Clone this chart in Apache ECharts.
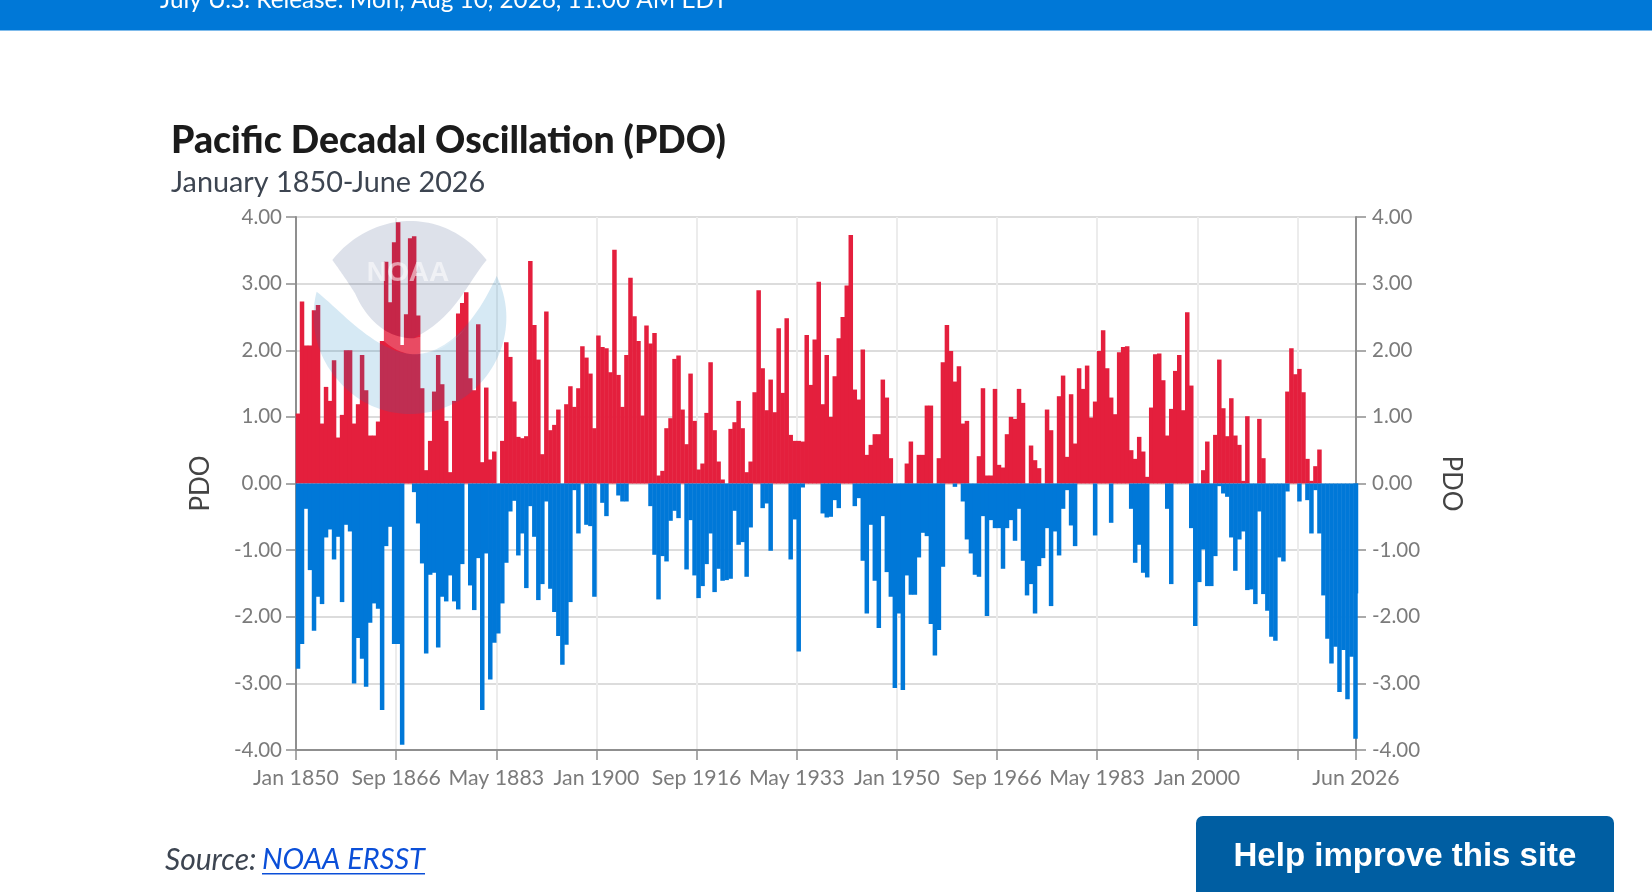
<!DOCTYPE html>
<html><head><meta charset="utf-8">
<style>html,body{margin:0;padding:0;background:#fff}#c{width:1652px;height:892px}</style>
<script src="https://cdn.jsdelivr.net/npm/echarts@6/dist/echarts.min.js"></script>
</head><body><div id="c"></div>
<script>
// Highest and lowest monthly PDO, one pair per 8-month step from Jan 1850.
const posValues = [1.05,2.73,2.07,2.07,2.6,2.68,.9,1.45,1.24,1.85,.69,1.03,2,2,.9,1.19,1.93,1.4,.72,.72,.93,2.14,3.33,2.72,3.62,3.92,2.08,2.54,3.68,3.71,2.52,1.43,.2,.64,1.38,1.93,1.49,.94,.17,1.24,2.55,2.71,2.87,1.58,
1.4,2.39,.32,1.44,.36,.48,0,.64,2.12,1.9,1.23,.7,.68,.71,3.34,2.38,1.86,.44,2.58,.8,.88,1.11,0,1.19,1.46,1.15,1.43,2.06,1.89,1.65,.83,2.22,2.05,2.03,1.67,3.51,1.63,1.15,1.93,3.09,2.51,2.14,1.02,2.37,2.1,2.26,
.12,.19,.83,.98,1.87,1.92,1.11,.59,1.65,.94,.21,.3,1.06,1.82,.8,.33,.06,0,.82,.92,1.24,.83,.17,.33,1.37,2.9,1.73,1.1,1.56,1.07,2.33,1.36,2.48,.73,.64,.64,.63,2.23,1.48,2.16,3.03,1.19,1.93,1,1.61,2.18,
2.5,2.97,3.73,1.41,1.26,2.01,.43,.58,.74,.74,1.56,1.29,.38,0,0,0,.3,.63,0,.43,.43,1.17,1.17,0,.38,1.82,2.38,1.99,1.53,1.76,.9,.94,0,0,.41,1.43,.12,.12,1.42,.28,.24,.74,1,.97,1.42,1.21,
0,.57,.35,.23,0,1.11,.8,0,1.31,1.62,.4,1.34,.6,1.73,1.42,1.77,.99,1.23,1.99,2.3,1.73,1.29,1.04,1.97,2.05,2.06,.5,.37,.7,.48,.1,1.14,1.94,1.95,1.55,.72,1.12,1.69,1.93,1.1,2.57,1.47,0,0,.2,.63,
0,.73,1.86,1.13,.71,1.28,.72,.58,.04,1.01,0,0,.97,.38,0,0,0,0,0,1.38,2.03,1.64,1.72,1.37,.37,.04,.26,.51,0,0,0,0,0,0,0,0,0];
const negValues = [-2.78,-2.41,-.38,-1.3,-2.21,-1.7,-1.81,-.81,-.69,-1.14,-.8,-1.78,-.62,-.72,-3,-2.32,-2.63,-3.05,-2.09,-1.8,-1.88,-3.4,-.94,-.65,-2.41,-2.41,-3.92,0,0,-.13,-.6,-1.2,-2.55,-1.37,-1.34,-2.46,-1.7,-1.77,-1.38,-1.77,-1.89,-1.21,0,-1.53,
-1.9,-1.12,-3.4,-1.05,-2.94,-2.39,-2.25,-1.8,-1.19,-.42,-.26,-1.08,-.75,-1.57,-.34,-.8,-1.75,-1.51,-.27,-1.58,-1.93,-2.29,-2.72,-2.42,-1.78,-.1,-.75,0,-.62,-.64,-1.7,0,-.29,-.49,0,0,-.18,-.27,-.27,0,0,0,0,0,-.34,-1.07,
-1.74,-1.09,-1.17,-.56,-.41,-.52,0,-1.29,-.55,-1.38,-1.72,-1.54,-1.21,-.75,-1.63,-1.28,-1.46,-1.45,-1.43,-.41,-.92,-.88,-1.4,-.66,0,0,-.37,-.3,-1.01,0,0,0,0,-1.14,-.54,-2.52,-.06,0,0,0,0,-.45,-.51,-.5,-.25,-.37,
0,0,0,-.34,-.22,-1.16,-1.95,-.62,-1.46,-2.17,-.49,-1.33,-1.7,-3.07,-1.95,-3.1,-1.38,-1.67,-1.67,-1.11,-.74,-.79,-2.11,-2.58,-2.2,-1.25,0,0,-.05,0,-.27,-.84,-1.05,-1.37,-1.4,-.49,-1.99,-.55,-.67,-.67,-1.28,-.67,-.55,-.86,-.38,-1.16,
-1.68,-1.51,-1.95,-1.24,-1.12,-.67,-1.84,-.72,-1.08,-.38,-.1,-.63,-.94,0,0,0,0,-.78,0,0,0,-.59,0,0,0,0,-.38,-1.19,-.92,-1.34,-1.41,0,0,0,0,-.38,-1.51,0,0,0,0,-.67,-2.14,-1.48,-.99,-1.54,
-1.54,-1.09,-.04,-.15,-.2,-.81,-1.31,-.84,-.72,-1.6,-1.59,-1.81,-.42,-1.66,-1.91,-2.3,-2.36,-1.11,-1.17,-.12,0,0,-.27,0,-.25,-.75,-.1,-.75,-1.68,-2.33,-2.7,-2.45,-3.13,-2.5,-3.24,-2.6,-3.83];
const lastValue = -1.65;
const startYear = 1850, lastMonthIndex = 2117, stepMonths = 8, tickEvery = 200;
const monthNames = ['Jan','Feb','Mar','Apr','May','Jun','Jul','Aug','Sep','Oct','Nov','Dec'];
const yTicks = {min:-4, max:4, interval:1};
const titleText = 'Pacific Decadal Oscillation (PDO)';
const subtitleText = 'January 1850-June 2026';
const yName = 'PDO';

const categories = [];
for (let i = 0; i <= lastMonthIndex; i++) categories.push(monthNames[i % 12] + ' ' + (startYear + Math.floor(i / 12)));
const toPairs = a => a.map((v, k) => [k * stepMonths + stepMonths / 2, v]).filter(p => p[1] !== 0);
const posData = toPairs(posValues);
const negData = toPairs(negValues).concat([[lastMonthIndex, lastValue]]);

const FONT = 'Lato, "Noto Sans", sans-serif';
const GRAY = '#7b7b7b';
const isTick = i => i % tickEvery === 0 || i === lastMonthIndex;
const isLabel = i => (i % tickEvery === 0 && i !== 2000) || i === lastMonthIndex;
const valueAxis = (position) => ({
  type:'value', position, min:yTicks.min, max:yTicks.max, interval:yTicks.interval,
  axisLine:{show:true, onZero:false, lineStyle:{color:'#8f8f8f', width:2}},
  axisTick:{show:true, length:10, lineStyle:{color:'#8f8f8f', width:1.5}},
  axisLabel:{color:GRAY, fontFamily:FONT, fontSize:20.5, margin:position === 'left' ? 14 : 16, formatter:v => v.toFixed(2)},
  splitLine:{show:position === 'left', lineStyle:{color:'#dcdcdc', width:2}},
  name:yName, nameLocation:'middle', nameGap:82,
  nameRotate:position === 'left' ? 90 : -90,
  nameTextStyle:{color:'#444', fontFamily:FONT, fontSize:26}
});
// NOAA emblem outline, flattened from cubic curves (decoration, not data)
function outline(start, curves) {
  const out = [start];
  curves.forEach(c => {
    const p0 = out[out.length - 1];
    for (let s = 1; s <= 24; s++) {
      const t = s / 24, u = 1 - t;
      out.push([0, 1].map(d => u*u*u*p0[d] + 3*u*u*t*c[0][d] + 3*u*t*t*c[1][d] + t*t*t*c[2][d]));
    }
  });
  return out.map(p => [p[0] / 3 + 300, p[1] / 3 + 210]);
}
const domePts = outline([97,150], [
  [[160,70],[250,33],[330,33]], [[420,33],[500,75],[560,150]],
  [[500,220],[470,320],[340,385]], [[260,385],[200,330],[165,250]], [[140,210],[115,175],[97,150]]]);
const bluePts = outline([50,245], [
  [[120,300],[220,420],[330,432]], [[440,440],[530,330],[590,198]],
  [[640,300],[625,420],[550,510]], [[490,580],[410,612],[330,612]],
  [[240,612],[160,570],[105,500]], [[40,420],[30,320],[50,245]]]);
const bandPts = outline([165,250], [
  [[200,330],[260,385],[340,385]], [[360,380],[385,375],[400,372]], [[420,378],[445,382],[465,385]],
  [[478,372],[490,362],[500,350]], [[440,420],[390,436],[330,432]], [[250,420],[200,340],[165,250]]]);

const chart = echarts.init(document.getElementById('c'), null, {renderer:'canvas'});
chart.setOption({
  animation:false,
  title:[
    {text:titleText, left:171, top:122, padding:0, textStyle:{color:'#1b1b1b', fontFamily:FONT, fontWeight:900, fontSize:37.4}},
    {text:subtitleText, left:171, top:168, padding:0, textStyle:{color:'#3d4551', fontFamily:FONT, fontWeight:400, fontSize:28.8}}
  ],
  grid:{left:296, right:296, top:217, bottom:142, containLabel:false},
  xAxis:{
    type:'category', data:categories, boundaryGap:false,
    axisLine:{show:true, onZero:false, lineStyle:{color:'#8f8f8f', width:2}},
    axisTick:{show:true, length:10, interval:(i)=>isTick(i), lineStyle:{color:'#8f8f8f', width:1.5}},
    axisLabel:{show:true, color:GRAY, fontFamily:FONT, fontSize:21.3, margin:18, interval:(i)=>isLabel(i), hideOverlap:false, showMinLabel:true, showMaxLabel:true},
    splitLine:{show:true, interval:(i)=>isTick(i), lineStyle:{color:'#ececec', width:2}}
  },
  yAxis:[valueAxis('left'), valueAxis('right')],
  series:[
    {name:'PDO above zero', type:'bar', data:posData, barWidth:4.5, barGap:'-100%', clip:false, itemStyle:{color:'#e41f3d'}, z:3},
    {name:'PDO below zero', type:'bar', data:negData, barWidth:4.5, barGap:'-100%', clip:false, itemStyle:{color:'#0078d8'}, z:3}
  ],
  graphic:[
    {type:'rect', z:10, shape:{x:0,y:0,width:1652,height:30.5}, style:{fill:'#0078d7'}},
    {type:'text', z:11, x:160, y:-12, style:{text:'July U.S. Release: Mon, Aug 10, 2026, 11:00 AM EDT', fill:'#fff', font:'400 24.3px '+FONT}},
    {type:'polygon', z:20, silent:true, shape:{points:domePts}, style:{fill:'rgb(55,79,132)', opacity:.17}},
    {type:'polygon', z:20, silent:true, shape:{points:bluePts}, style:{fill:'rgb(14,126,190)', opacity:.17}},
    {type:'polygon', z:20, silent:true, shape:{points:bandPts}, style:{fill:'#fff', opacity:.2}},
    {type:'text', z:21, silent:true, x:408, y:273, style:{text:'NOAA', fill:'#fff', opacity:.55, font:'700 28px "Liberation Sans", sans-serif', align:'center', verticalAlign:'middle'}},
    {type:'text', z:11, x:165, y:860, style:{text:'Source:', fill:'#3d4551', font:'italic 400 30px '+FONT, verticalAlign:'middle'}},
    {type:'text', z:11, x:262, y:860, style:{text:'NOAA ERSST', fill:'#0b4fd8', font:'italic 400 29px '+FONT, verticalAlign:'middle'}},
    {type:'rect', z:11, shape:{x:262,y:873,width:163,height:1.5}, style:{fill:'#0b4fd8'}},
    {type:'rect', z:11, shape:{x:1196,y:816,width:418,height:90,r:[7,7,0,0]}, style:{fill:'#005ea2'}},
    {type:'text', z:12, x:1405, y:857, style:{text:'Help improve this site', fill:'#fff', font:'700 33px "Liberation Sans", Arial, sans-serif', align:'center', verticalAlign:'middle'}}
  ]
});
</script></body></html>
